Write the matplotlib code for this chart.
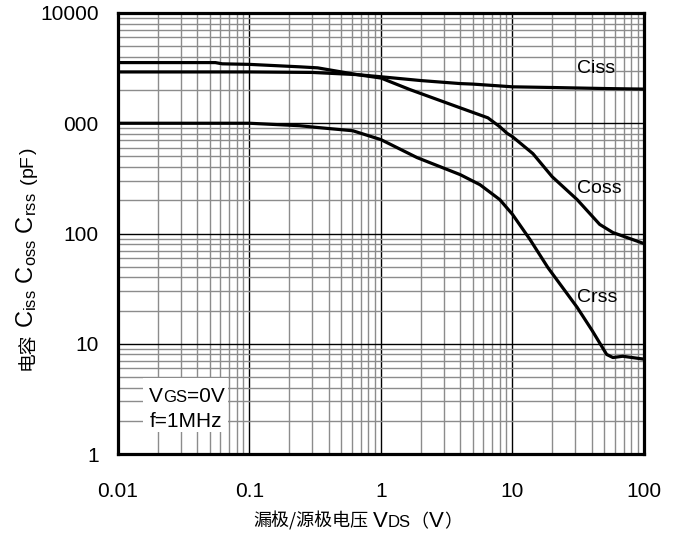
import matplotlib
matplotlib.use('Agg')
import matplotlib.pyplot as plt
from matplotlib.ticker import LogLocator, NullFormatter
from matplotlib.patches import Rectangle

# ---------------- data ----------------
ciss_v = [0.01, 0.1, 0.3, 0.66, 1, 2, 4, 5, 8, 10, 20, 50, 100]
ciss_c = [2920, 2920, 2890, 2760, 2640, 2440, 2290, 2265, 2180, 2140, 2110, 2065, 2040]

coss_v = [0.01, 0.055, 0.062, 0.1, 0.24, 0.33, 0.66, 1, 1.66, 4, 6.5, 8, 9.1, 10, 14.3, 20, 31, 46, 58, 100]
coss_c = [3550, 3550, 3460, 3420, 3250, 3180, 2760, 2570, 2020, 1380, 1120, 930, 810, 755, 530, 328, 203, 121, 102, 81]

crss_v = [0.01, 0.1, 0.24, 0.33, 0.61, 1, 1.88, 4, 5.66, 8, 10, 13.6, 18.6, 31, 40.3, 52, 58, 69, 100]
crss_c = [1000, 1000, 950, 915, 855, 710, 488, 342, 277, 203, 149, 88, 49, 21.4, 13.2, 8.0, 7.5, 7.7, 7.25]

x_ticks = [0.01, 0.1, 1, 10, 100]
x_tick_labels = ['0.01', '0.1', '1', '10', '100']
y_ticks = [1, 10, 100, 1000, 10000]
y_tick_labels = ['1', '10', '100', '000', '10000']

LAT = 'Liberation Sans'
CJK = 'Noto Sans CJK SC'
plt.rcParams['font.family'] = [LAT, CJK]
plt.rcParams['mathtext.default'] = 'regular'

W, H = 683, 543
fig = plt.figure(figsize=(W / 100, H / 100), dpi=100)
ax = fig.add_axes([118 / W, 89 / H, 526 / W, 441 / H])
ax.set_xscale('log')
ax.set_yscale('log')
ax.set_xlim(0.01, 100)
ax.set_ylim(1, 10000)

ax.set_xticks(x_ticks)
ax.set_xticklabels(x_tick_labels)
ax.set_yticks(y_ticks)
ax.set_yticklabels(y_tick_labels)
for axis in (ax.xaxis, ax.yaxis):
    axis.set_minor_locator(LogLocator(base=10, subs=range(2, 10), numticks=20))
    axis.set_minor_formatter(NullFormatter())

ax.set_axisbelow(True)
ax.grid(which='major', color='black', lw=1.0)
ax.grid(which='minor', color='#8c8c8c', lw=1.0)
ax.tick_params(which='both', length=0)
ax.tick_params(axis='x', pad=20, labelsize=15)
ax.tick_params(axis='y', pad=14, labelsize=15)
for sp in ax.spines.values():
    sp.set_linewidth(2.3)
    sp.set_color('black')
    sp.set_zorder(5)

for xs, ys in ((ciss_v, ciss_c), (coss_v, coss_c), (crss_v, crss_c)):
    ax.plot(xs, ys, color='black', lw=2.3, zorder=3, solid_joinstyle='round')

ax.text(30.9, 2865, 'Ciss', fontsize=14, ha='left', va='baseline', zorder=4)
ax.text(30.9, 235, 'Coss', fontsize=14, ha='left', va='baseline', zorder=4)
ax.text(30.9, 23.8, 'Crss', fontsize=14, ha='left', va='baseline', zorder=4)

# white box for conditions
ax.add_patch(Rectangle((25 / 526, 22 / 441), 85 / 526, 54 / 441, transform=ax.transAxes,
                       facecolor='white', edgecolor='none', zorder=1))


def chain_h(x_px, y_px, pieces):
    s, size, gap, fam = pieces[0]
    prev = fig.text(x_px / W, y_px / H, s, fontsize=size, ha='left', va='baseline', family=fam)
    for s, size, gap, fam in pieces[1:]:
        prev = ax.annotate(
            s, xy=(1, y_px), xycoords=(prev, 'figure pixels'),
            xytext=(gap, 0), textcoords='offset points', family=fam,
            fontsize=size, ha='left', va='baseline', annotation_clip=False, zorder=6)
    return prev


def chain_v(x_px, y_px, pieces):
    s, size, gap, fam = pieces[0]
    prev = fig.text(x_px / W, y_px / H, s, fontsize=size, ha='left', va='baseline',
                    rotation=90, rotation_mode='anchor', family=fam)
    for s, size, gap, fam in pieces[1:]:
        prev = ax.annotate(
            s, xy=(x_px, 1), xycoords=('figure pixels', prev),
            xytext=(0, gap), textcoords='offset points', family=fam,
            fontsize=size, ha='left', va='baseline', rotation=90, rotation_mode='anchor',
            annotation_clip=False, zorder=6)
    return prev


# conditions text
chain_h(149, 141, [('V', 15, 0, LAT), ('GS', 12, 0, LAT), ('=0V', 15, 0, LAT)])
fig.text(150 / W, 116 / H, 'f=1MHz', fontsize=15, ha='left', va='baseline', family=LAT)

# x label
chain_h(253, 16, [('漏极/源极电压', 13, 0, CJK), ('V', 16, 3.5, LAT), ('DS', 12, 0, LAT),
                  ('（', 13, 0, CJK), ('V', 16, 0, LAT), ('）', 13, 0, CJK)])

# y label
chain_v(33, 173, [('电容', 13.5, 0, CJK),
                  (r'C$_{iss}$ C$_{oss}$ C$_{rss}$', 17, 3.5, LAT),
                  ('(', 14, 6, LAT), ('pF', 14, 0, LAT), (')', 14, 0, LAT)])

fig.savefig('out.png', dpi=100)
